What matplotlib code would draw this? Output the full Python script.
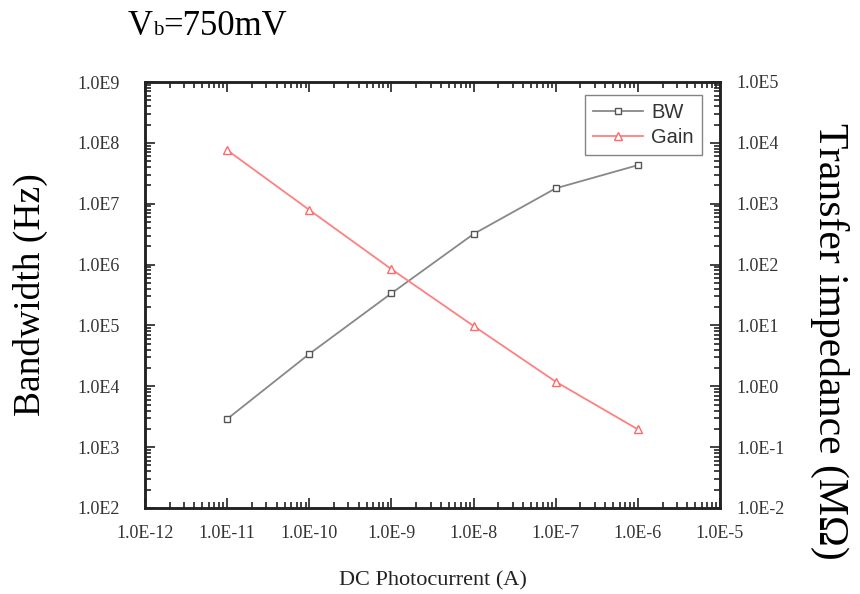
import numpy as np
import matplotlib
matplotlib.use("Agg")
import matplotlib.pyplot as plt
from matplotlib.ticker import LogLocator, FuncFormatter, NullFormatter

# Photocurrent sweep (A)
current = [1e-11, 1e-10, 1e-9, 1e-8, 1e-7, 1e-6]
# -3 dB bandwidth (Hz)
bandwidth = [2.9e3, 3.4e4, 3.37e5, 3.18e6, 1.79e7, 4.3e7]
# Transfer impedance gain (MOhm)
gain = [7.6e3, 7.9e2, 84, 9.8, 1.19, 0.196]

serif = "Liberation Serif"
sans = "Liberation Sans"

fig = plt.figure(figsize=(8.6, 5.94), dpi=100)
ax = fig.add_axes([145 / 860, 1 - 508 / 594, (720 - 145) / 860, (508 - 82) / 594])
ax2 = ax.twinx()

bw_line, = ax.plot(current, bandwidth, color="#888888", lw=1.3, marker="s",
                   ms=4.5, mfc="white", mec="#555555", mew=1.0, label="BW")
gain_line, = ax2.plot(current, gain, color="#ff8080", lw=1.3, marker="^",
                      ms=5.5, mfc="white", mec="#ff6a6a", mew=1.0, label="Gain")

ax.set_xscale("log")
ax.set_yscale("log")
ax2.set_yscale("log")
ax.set_xlim(1e-12, 1e-5)
ax.set_ylim(1e2, 1e9)
ax2.set_ylim(1e-2, 1e5)


def sci_fmt(v, pos):
    return "1.0E%d" % int(round(np.log10(v)))


for a in (ax, ax2):
    a.yaxis.set_major_locator(LogLocator(base=10, numticks=20))
    a.yaxis.set_minor_locator(LogLocator(base=10, subs=np.arange(2, 10), numticks=20))
    a.yaxis.set_major_formatter(FuncFormatter(sci_fmt))
    a.yaxis.set_minor_formatter(NullFormatter())
ax.xaxis.set_major_locator(LogLocator(base=10, numticks=20))
ax.xaxis.set_minor_locator(LogLocator(base=10, subs=np.arange(2, 10), numticks=20))
ax.xaxis.set_major_formatter(FuncFormatter(sci_fmt))
ax.xaxis.set_minor_formatter(NullFormatter())

ax.tick_params(which="both", direction="in", top=True, bottom=True, left=True,
               right=False, width=1.2, colors="#222222")
ax.tick_params(which="major", length=7)
ax.tick_params(which="minor", length=4)
ax.tick_params(axis="x", which="major", pad=12)
ax.tick_params(axis="y", which="major", pad=18)
ax2.tick_params(axis="y", which="both", direction="in", left=False, right=True,
                labelleft=False, labelright=True, width=1.2, colors="#222222")
ax2.tick_params(axis="y", which="major", length=7, pad=12)
ax2.tick_params(axis="y", which="minor", length=4)

for a in (ax, ax2):
    for lbl in a.get_xticklabels() + a.get_yticklabels():
        lbl.set_fontfamily(serif)
        lbl.set_fontsize(13)
        lbl.set_color("#333333")
    for s in a.spines.values():
        s.set_linewidth(1.8)
        s.set_color("#222222")

ax.set_xlabel("DC Photocurrent (A)", fontfamily=serif, fontsize=16,
              labelpad=21, color="#222222")
ax.set_ylabel("Bandwidth (Hz)", fontfamily=serif, fontsize=27)
ax.yaxis.set_label_coords(-0.168, 0.50)
ax2.set_ylabel("Transfer impedance (M\u03a9)", fontfamily=serif, fontsize=30,
               rotation=-90, va="center", ha="center")
ax2.yaxis.set_label_coords(1.19, 0.39)

leg = ax.legend(handles=[bw_line, gain_line], loc="upper right",
                bbox_to_anchor=(702 / 860, 1 - 95 / 594), bbox_transform=fig.transFigure,
                prop={"family": sans, "size": 14.5}, fancybox=False, frameon=True,
                edgecolor="#666666", handlelength=2.5, handletextpad=0.4,
                borderpad=0.4, labelspacing=0.3, borderaxespad=0)
leg.get_frame().set_linewidth(1.0)
for t in leg.get_texts():
    t.set_color("#333333")

# Heading with a small "b" set on the baseline after the V
fig.canvas.draw()
renderer = fig.canvas.get_renderer()
x0, y0 = 128 / 860, 1 - 35 / 594
t1 = fig.text(x0, y0, "V", fontfamily=serif, fontsize=25, va="baseline", ha="left")
w1 = t1.get_window_extent(renderer).width / fig.bbox.width
t2 = fig.text(x0 + w1, y0, "b", fontfamily=serif, fontsize=15, va="baseline", ha="left")
w2 = t2.get_window_extent(renderer).width / fig.bbox.width
fig.text(x0 + w1 + w2, y0, "=750mV", fontfamily=serif, fontsize=25,
         va="baseline", ha="left")

fig.savefig("out.png", dpi=100)
